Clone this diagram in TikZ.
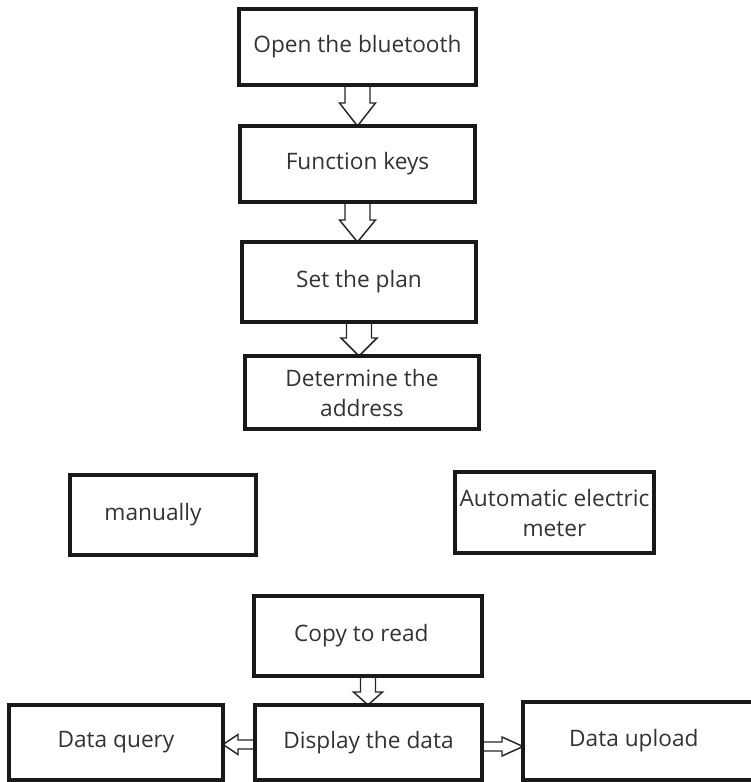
\documentclass[tikz,border=0pt]{standalone}
\usepackage{fontspec}
\setmainfont{Open Sans}
\usetikzlibrary{calc,backgrounds}
\newcommand\vblk[5]{% from, to, shaft half, head half, head length
  \coordinate (vt) at (#1.south |- #2.north);
  \draw[blk] ($(#1.south)+(-#3,0)$) -- ($(vt)+(-#3,-#5)$) -- ($(vt)+(-#4,-#5)$) -- (vt)
    -- ($(vt)+(#4,-#5)$) -- ($(vt)+(#3,-#5)$) -- ($(#1.south)+(#3,0)$);}
\begin{document}
\begin{tikzpicture}[x=0.75pt,y=-0.75pt,
  box/.style={draw=black!90, line width=3pt, inner sep=0pt, outer sep=0pt, align=center,
    font=\fontsize{17}{22.5}\selectfont, text=black!80},
  blk/.style={draw=black!85, line width=1.1pt, fill=white, line join=miter}]
\useasboundingbox (0,0) rectangle (750,782);
\node[box, minimum width=177.75pt, minimum height=57pt] (b1) at (357.5,47) {Open the bluetooth};
\node[box, minimum width=176.25pt, minimum height=57pt] (b2) at (357.5,164) {Function keys};
\node[box, minimum width=175.5pt, minimum height=60pt] (b3) at (359,282) {Set the plan};
\node[box, minimum width=175.5pt, minimum height=54.75pt] (b4) at (362,392.5) {Determine the\\address};
\node[box, minimum width=139.5pt, minimum height=60pt] (man) at (163,515) {manually\hspace*{15pt}};
\node[box, minimum width=149.25pt, minimum height=60.75pt] (auto) at (554.5,512.5) {Automatic electric\\meter};
\node[box, minimum width=171pt, minimum height=60pt] (copy) at (368,636) {Copy to read\hspace*{10pt}};
\node[box, minimum width=170.25pt, minimum height=56.25pt] (disp) at (368.5,742.5) {Display the data};
\node[box, minimum width=160.5pt, minimum height=56.25pt] (dq) at (116,742.5) {Data query};
\node[box, minimum width=176.25pt, minimum height=58.5pt] (du) at (640.5,741) {Data upload\hspace*{10pt}};
\begin{pgfonlayer}{background}
  \vblk{b1}{b2}{12.5}{18}{23}
  \vblk{b2}{b3}{12.5}{18}{22}
  \vblk{b3}{b4}{12.5}{18}{18}
  \vblk{copy}{disp}{7.5}{14.5}{13}
  \coordinate (ls) at ($(disp.west)+(0,2)$);
  \coordinate (lt) at (dq.east |- ls);
  \draw[blk] ($(ls)+(0,-4.5)$) -- ($(lt)+(15,-4.5)$) -- ($(lt)+(15,-10)$) -- (lt)
    -- ($(lt)+(15,10)$) -- ($(lt)+(15,4.5)$) -- ($(ls)+(0,4.5)$);
  \coordinate (rs) at ($(disp.east)+(0,4)$);
  \coordinate (rt) at (du.west |- rs);
  \draw[blk] ($(rs)+(0,-4.5)$) -- ($(rt)+(-21,-4.5)$) -- ($(rt)+(-21,-9.5)$) -- (rt)
    -- ($(rt)+(-21,9.5)$) -- ($(rt)+(-21,4.5)$) -- ($(rs)+(0,4.5)$);
\end{pgfonlayer}
\end{tikzpicture}
\end{document}
